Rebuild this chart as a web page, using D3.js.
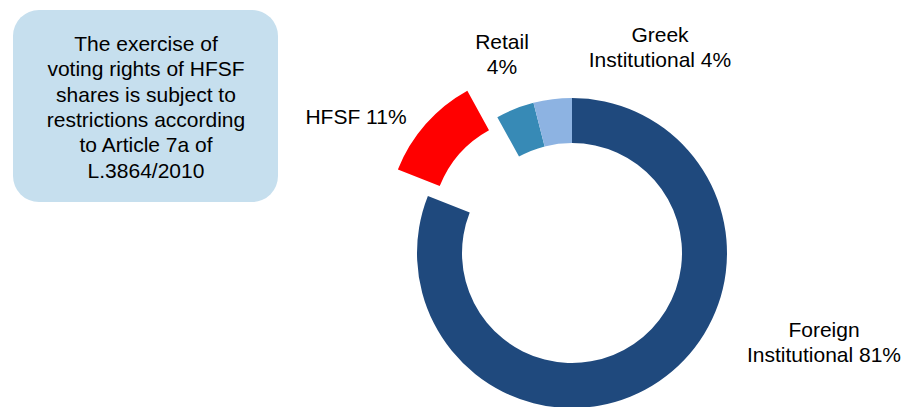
<!DOCTYPE html>
<html>
<head>
<meta charset="utf-8">
<script src="https://cdn.jsdelivr.net/npm/d3@7"></script>
<style>
  html, body { margin: 0; padding: 0; background: #fff; }
  svg { display: block; font-family: "Liberation Sans", Arial, sans-serif; }
</style>
</head>
<body>
<svg id="chart" width="903" height="407"></svg>
<script>
// ---- data ----
const categories = ["Foreign Institutional", "HFSF", "Retail", "Greek Institutional"];
const shares = [81, 11, 4, 4];
const labelLines = [
  ["Foreign", "Institutional 81%"],
  ["HFSF 11%"],
  ["Retail", "4%"],
  ["Greek", "Institutional 4%"]
];
const noteLines = [
  "The exercise of",
  "voting rights of HFSF",
  "shares is subject to",
  "restrictions according",
  "to Article 7a of",
  "L.3864/2010"
];

// ---- styling / layout (not data) ----
const colors = ["#1F497D", "#FF0000", "#378AB6", "#8DB3E2"];
const exploded = [0, 40, 0, 0];
const labelPos = [
  { x: 824, y: 337 },
  { x: 356, y: 124 },
  { x: 502, y: 49 },
  { x: 660, y: 42 }
];
const cx = 572, cy = 253, rOuter = 155, rInner = 110;
const fontSize = 21, lineH = 24.5;

const svg = d3.select("#chart");

// note box
const note = svg.append("g");
note.append("rect")
  .attr("x", 13).attr("y", 10)
  .attr("width", 265).attr("height", 192)
  .attr("rx", 26).attr("ry", 26)
  .attr("fill", "#C6DFEE");
note.append("text")
  .attr("text-anchor", "middle")
  .attr("font-size", fontSize)
  .attr("fill", "#000")
  .selectAll("tspan")
  .data(noteLines)
  .join("tspan")
  .attr("x", 146)
  .attr("y", (d, i) => 51 + i * 25.3)
  .text(d => d);

// donut
const pie = d3.pie().sort(null).value(d => d).startAngle(0).endAngle(2 * Math.PI);
const arcs = pie(shares);
const arc = d3.arc().innerRadius(rInner).outerRadius(rOuter);

const g = svg.append("g").attr("transform", `translate(${cx},${cy})`);
g.selectAll("path")
  .data(arcs)
  .join("path")
  .attr("d", arc)
  .attr("fill", (d, i) => colors[i])
  .attr("transform", (d, i) => {
    const a = (d.startAngle + d.endAngle) / 2;
    const off = exploded[i];
    return `translate(${off * Math.sin(a)},${-off * Math.cos(a)})`;
  });

// labels
const lbl = svg.append("g")
  .attr("font-size", fontSize)
  .attr("text-anchor", "middle")
  .attr("fill", "#000");
categories.forEach((c, i) => {
  const t = lbl.append("text");
  if (i === 1) t.attr("text-anchor", "middle");
  t.selectAll("tspan")
    .data(labelLines[i])
    .join("tspan")
    .attr("x", labelPos[i].x)
    .attr("y", (d, j) => labelPos[i].y + j * lineH)
    .text(d => d);
});
</script>
</body>
</html>
